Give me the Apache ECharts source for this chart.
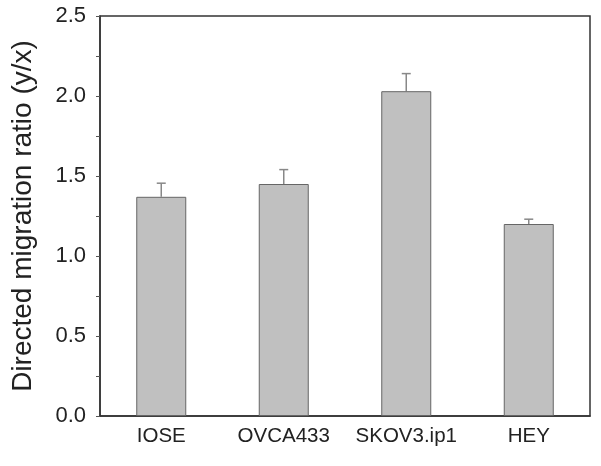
<!DOCTYPE html>
<html>
<head>
<meta charset="utf-8">
<script src="https://cdn.jsdelivr.net/npm/echarts@6/dist/echarts.min.js"></script>
<style>html,body{margin:0;padding:0;background:#fff}#c{width:601px;height:466px}</style>
</head>
<body>
<div id="c"></div>
<script>
var categories = ['IOSE', 'OVCA433', 'SKOV3.ip1', 'HEY'];
var values = [1.37, 1.45, 2.03, 1.20];
var errors = [0.085, 0.09, 0.11, 0.03];
var yTicks = [0, 0.5, 1.0, 1.5, 2.0, 2.5];

var chart = echarts.init(document.getElementById('c'));
var font = '"Liberation Sans", Arial, sans-serif';
chart.setOption({
  animation: false,
  grid: { left: 100, right: 11, top: 16, bottom: 50, show: true, borderColor: '#333', borderWidth: 1.5, backgroundColor: 'transparent' },
  xAxis: {
    type: 'category',
    data: categories,
    axisLine: { lineStyle: { color: '#333', width: 1.5 } },
    axisTick: { alignWithLabel: true, length: 6, lineStyle: { color: '#555' } },
    axisLabel: { color: '#222', fontSize: 20.5, fontFamily: font, margin: 10, interval: 0, hideOverlap: false }
  },
  yAxis: {
    type: 'value',
    min: 0, max: 2.5, interval: 0.5,
    name: 'Directed migration ratio (y/x)',
    nameLocation: 'middle',
    nameGap: 63,
    nameTextStyle: { fontSize: 28, fontFamily: font, color: '#222' },
    axisLine: { show: true, lineStyle: { color: '#333', width: 1.5 } },
    axisTick: { show: true, length: 4, lineStyle: { color: '#555' } },
    minorTick: { show: true, splitNumber: 2, length: 4, lineStyle: { color: '#555' } },
    splitLine: { show: false },
    axisLabel: { color: '#222', fontSize: 22, fontFamily: font, margin: 14,
      formatter: function (v) { return v.toFixed(1); } }
  },
  series: [
    {
      type: 'bar',
      data: values,
      barWidth: 50,
      itemStyle: { color: '#c0c0c0', borderColor: '#666', borderWidth: 1 }
    },
    {
      type: 'custom',
      data: values.map(function (v, i) { return [i, v, v + errors[i]]; }),
      z: 1,
      renderItem: function (params, api) {
        var lo = api.coord([api.value(0), api.value(1)]);
        var hi = api.coord([api.value(0), api.value(2)]);
        var hw = 4.5;
        return {
          type: 'group',
          children: [
            { type: 'line', shape: { x1: lo[0], y1: lo[1], x2: hi[0], y2: hi[1] }, style: { stroke: '#888', lineWidth: 1.5 } },
            { type: 'line', shape: { x1: hi[0] - hw, y1: hi[1], x2: hi[0] + hw, y2: hi[1] }, style: { stroke: '#888', lineWidth: 1.5 } }
          ]
        };
      }
    }
  ]
});
</script>
</body>
</html>
